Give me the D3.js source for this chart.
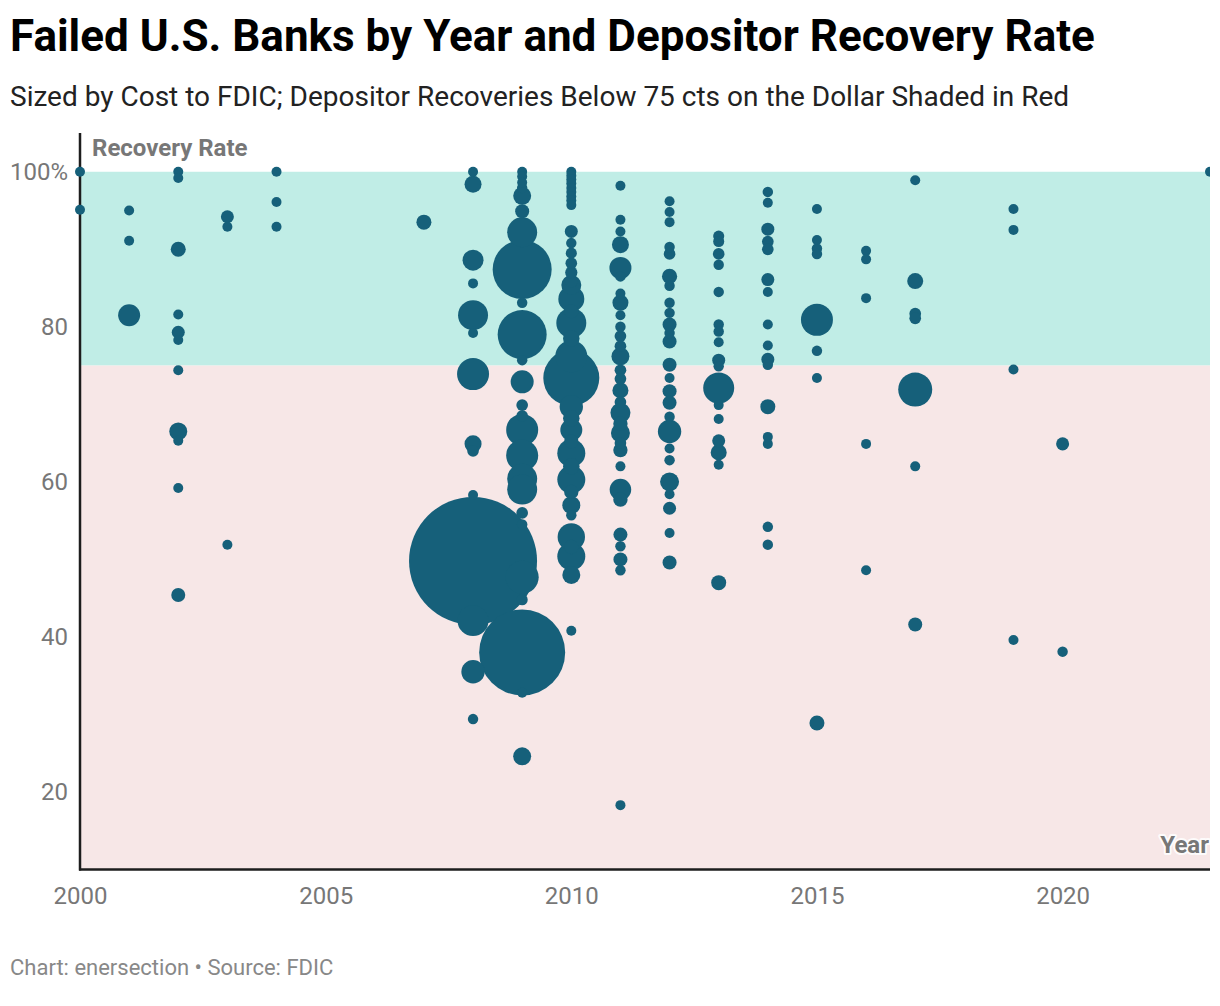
<!DOCTYPE html>
<html>
<head>
<meta charset="utf-8">
<script src="https://cdn.jsdelivr.net/npm/d3@7"></script>
<style>
  html, body { margin: 0; padding: 0; background: #fff; }
  svg { display: block; font-family: Roboto, "Noto Sans", sans-serif; }
</style>
</head>
<body>
<svg id="chart" width="1210" height="1006"></svg>
<script>
// ---- Data ----
const years = [2000, 2001, 2002, 2003, 2004, 2007, 2008, 2009, 2010, 2011, 2012, 2013, 2014, 2015, 2016, 2017, 2019, 2020, 2023];

// Depositor recovery rate (%) of each failed bank, grouped by year
const recoveryByYear = [
  [100, 95.1],
  [95.0, 91.1, 81.5],
  [100, 99.2, 90.0, 81.6, 79.3, 78.3, 74.4, 66.5, 65.3, 59.2, 45.4],
  [94.2, 92.9, 51.9],
  [100, 96.1, 92.9],
  [93.5],
  [100, 98.4, 88.6, 85.6, 81.5, 79.2, 73.9, 64.9, 64.0, 58.3, 49.8, 42.1, 35.5, 29.4],
  [100, 99.4, 98.6, 97.9, 96.9, 94.9, 92.2, 87.4, 83.1, 79.0, 75.7, 72.9, 69.9, 68.5, 66.7, 63.4, 60.4, 59.0, 56.0, 54.5, 47.7, 44.8, 38.0, 32.8, 24.6],
  [100, 99.5, 99.0, 98.5, 97.9, 97.4, 96.8, 96.3, 95.7, 92.3, 90.8, 89.5, 88.2, 87.0, 85.9, 85.4, 83.6, 82.0, 80.5, 78.5, 76.2, 73.4, 69.7, 68.2, 66.7, 65.2, 63.7, 62.0, 60.3, 58.7, 57.0, 55.7, 52.9, 51.6, 50.4, 48.0, 40.8],
  [98.2, 93.8, 92.3, 90.6, 87.6, 86.5, 84.3, 83.1, 81.5, 80.0, 78.8, 77.5, 76.2, 74.4, 73.3, 71.8, 70.3, 68.9, 67.5, 66.3, 65.0, 64.1, 62.0, 59.0, 57.7, 53.2, 51.7, 50.0, 48.6, 18.3],
  [96.2, 94.8, 93.5, 90.3, 89.4, 86.5, 85.3, 83.1, 81.8, 80.3, 79.2, 78.1, 75.1, 73.4, 71.7, 70.2, 68.4, 66.5, 64.3, 62.8, 60.0, 58.4, 56.6, 53.4, 49.6],
  [91.7, 91.0, 89.4, 88.0, 84.5, 80.3, 79.4, 78.0, 75.7, 74.9, 72.1, 69.9, 68.1, 65.3, 63.8, 62.2, 47.0],
  [97.4, 96.0, 92.6, 91.0, 90.0, 86.1, 84.5, 80.3, 77.6, 75.8, 75.1, 69.7, 65.8, 64.9, 54.2, 51.9],
  [95.2, 91.2, 90.1, 89.4, 80.9, 76.9, 73.4, 28.9],
  [89.8, 88.7, 83.7, 64.9, 48.6],
  [98.9, 85.9, 81.7, 81.1, 71.9, 62.0, 41.6],
  [95.2, 92.5, 74.5, 39.6],
  [64.9, 38.1],
  [100]
];

// Estimated cost to FDIC ($ millions), same order as recoveryByYear
const costByYear = [
  [50, 50],
  [50, 50, 355],
  [50, 50, 165, 50, 124, 50, 50, 237, 50, 50, 144],
  [124, 50, 50],
  [50, 50, 50],
  [165],
  [50, 212, 323, 50, 659, 50, 750, 212, 100, 50, 12000, 700, 400, 80],
  [50, 50, 50, 80, 237, 144, 659, 2550, 80, 1759, 80, 388, 100, 100, 750, 750, 659, 659, 100, 80, 800, 90, 5418, 50, 237],
  [50, 50, 50, 50, 50, 50, 50, 50, 50, 124, 80, 90, 100, 110, 120, 293, 495, 150, 659, 200, 750, 2297, 400, 200, 355, 150, 574, 200, 574, 150, 237, 80, 549, 150, 574, 237, 60],
  [50, 50, 50, 212, 355, 80, 50, 188, 50, 80, 100, 100, 237, 100, 100, 188, 100, 293, 150, 264, 100, 150, 50, 340, 150, 144, 80, 144, 80, 60],
  [50, 50, 50, 80, 100, 170, 80, 80, 80, 144, 80, 144, 144, 50, 144, 144, 80, 400, 60, 80, 264, 60, 124, 50, 144],
  [90, 90, 100, 80, 80, 80, 80, 60, 124, 80, 704, 60, 60, 124, 188, 60, 165],
  [80, 60, 124, 100, 100, 124, 60, 60, 60, 124, 80, 165, 60, 60, 80, 80],
  [60, 60, 80, 80, 750, 80, 60, 165],
  [60, 60, 60, 60, 60],
  [60, 188, 100, 100, 847, 60, 144],
  [70, 60, 60, 70],
  [124, 80],
  [60]
];

const xTicks = [2000, 2005, 2010, 2015, 2020];
const yTicks = [20, 40, 60, 80, 100];
const threshold = 75;

// ---- Build records ----
const banks = [];
years.forEach((yr, i) => {
  recoveryByYear[i].forEach((r, j) => banks.push({ year: yr, rate: r, cost: costByYear[i][j] }));
});
banks.sort((a, b) => b.cost - a.cost);

// ---- Layout ----
const svg = d3.select("#chart");
const plotLeft = 80, plotRight = 1210, plotTop = 133, plotBottom = 869.5;

const x = d3.scaleLinear().domain([2000, 2023]).range([plotLeft, plotRight]);
const y = d3.scaleLinear().domain([10, 105]).range([plotBottom, plotTop]);
const rScale = d3.scaleSqrt().domain([0, 12000]).range([0, 64]);
const radius = c => Math.max(5, rScale(c));

// Title block
svg.append("text").attr("x", 10).attr("y", 51)
  .attr("font-size", 44).attr("font-weight", 700).attr("fill", "#000")
  .text("Failed U.S. Banks by Year and Depositor Recovery Rate");
svg.append("text").attr("x", 10).attr("y", 106)
  .attr("font-size", 28).attr("fill", "#222")
  .text("Sized by Cost to FDIC; Depositor Recoveries Below 75 cts on the Dollar Shaded in Red");

// Background bands
svg.append("rect").attr("x", x(2000)).attr("width", x(2023) - x(2000))
  .attr("y", y(100)).attr("height", y(threshold) - y(100)).attr("fill", "#c0ede6");
svg.append("rect").attr("x", x(2000)).attr("width", x(2023) - x(2000))
  .attr("y", y(threshold)).attr("height", y(10) - y(threshold)).attr("fill", "#f7e7e7");

// Axes
const xAxis = d3.axisBottom(x).tickValues(xTicks).tickFormat(d3.format("d")).tickSize(0).tickPadding(17);
const gx = svg.append("g").attr("transform", `translate(0,${plotBottom})`).call(xAxis);
gx.select(".domain").remove();
gx.selectAll("text").attr("font-size", 24).attr("fill", "#777").attr("font-family", "Roboto");

const yAxis = d3.axisLeft(y).tickValues(yTicks).tickFormat(d => d === 100 ? "100%" : d).tickSize(0).tickPadding(12);
const gy = svg.append("g").attr("transform", `translate(${plotLeft},0)`).call(yAxis);
gy.select(".domain").remove();
gy.selectAll("text").attr("font-size", 24).attr("fill", "#777").attr("font-family", "Roboto");

// Axis lines
svg.append("line").attr("x1", plotLeft).attr("x2", plotLeft).attr("y1", plotTop).attr("y2", plotBottom + 1)
  .attr("stroke", "#1d1d1d").attr("stroke-width", 2.5);
svg.append("line").attr("x1", plotLeft - 1).attr("x2", plotRight).attr("y1", plotBottom).attr("y2", plotBottom)
  .attr("stroke", "#1d1d1d").attr("stroke-width", 2.5);

// Bubbles
svg.append("g").selectAll("circle").data(banks).join("circle")
  .attr("cx", d => x(d.year)).attr("cy", d => y(d.rate)).attr("r", d => radius(d.cost))
  .attr("fill", "#16607a");

// Axis titles
svg.append("text").attr("x", 92).attr("y", 156)
  .attr("font-size", 24).attr("font-weight", 700).attr("fill", "#777")
  .text("Recovery Rate");
svg.append("text").attr("x", 1209).attr("y", 853).attr("text-anchor", "end")
  .attr("font-size", 24).attr("font-weight", 700).attr("fill", "#777")
  .attr("stroke", "#fff").attr("stroke-width", 4).attr("stroke-opacity", 0.85)
  .attr("stroke-linejoin", "round").attr("paint-order", "stroke")
  .text("Year");

// Footer
svg.append("text").attr("x", 10).attr("y", 975)
  .attr("font-size", 22).attr("fill", "#888")
  .text("Chart: enersection • Source: FDIC");
</script>
</body>
</html>
